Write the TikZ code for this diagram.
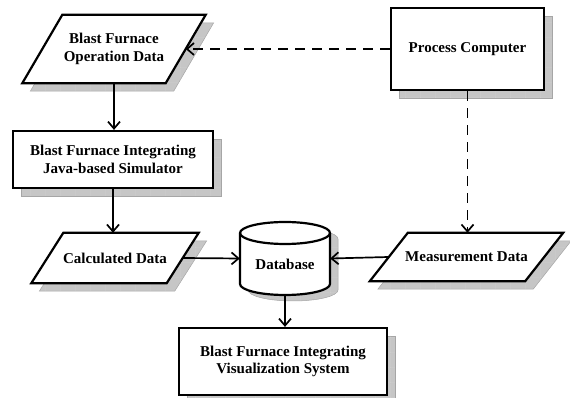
\documentclass[tikz,border=0pt]{standalone}
\usepackage{fontspec}
\setmainfont{Liberation Serif}
\usetikzlibrary{arrows.meta,patterns}

\pgfdeclarelayer{background}
\pgfsetlayers{background,main}

% fine grid used inside the drop shadows
\pgfdeclarepatternformonly{shadowgrid}{\pgfpointorigin}{\pgfpoint{15pt}{15pt}}{\pgfpoint{15pt}{15pt}}{%
  \pgfsetlinewidth{0.5pt}%
  \pgfpathmoveto{\pgfpointorigin}\pgfpathlineto{\pgfpoint{15pt}{0pt}}%
  \pgfpathmoveto{\pgfpointorigin}\pgfpathlineto{\pgfpoint{0pt}{15pt}}%
  \pgfusepath{stroke}}

\tikzset{
  boxfont/.style={font=\fontsize{15}{17.5}\selectfont\bfseries},
  shadowfill/.style={draw=gray!70, line width=0.5pt, fill=gray!45,
      postaction={pattern=shadowgrid, pattern color=gray!20}},
  gridshadow/.style={preaction={shadowfill, transform canvas={shift={(8pt,-8pt)}}}},
  outline/.style={draw, line width=2.2pt, fill=white},
  procbox/.style={rectangle, outline, gridshadow, align=center, inner sep=0pt, boxfont},
  databox/.style={rectangle, align=center, inner sep=0pt, boxfont},
  flow/.style={line width=1.7pt, -{Straight Barb[length=7pt,width=12pt,line width=1.7pt]}},
  feed/.style={flow, dash pattern=on 10pt off 7pt},
}

% parallelogram frame around a data node; #2 is half of the horizontal slant
\newcommand\paraframe[2]{%
  \begin{pgfonlayer}{background}
    \path[outline, gridshadow]
      ([xshift=#2]#1.north west) -- ([xshift=#2]#1.north east)
      -- ([xshift=-#2]#1.south east) -- ([xshift=-#2]#1.south west) -- cycle;
  \end{pgfonlayer}}

\begin{document}
\begin{tikzpicture}[x=1pt, y=1pt]
\useasboundingbox (0,0) rectangle (570,398);

\node[databox, minimum width=143pt, minimum height=68pt] (opdata) at (114,349)
      {Blast Furnace\\Operation Data};
\paraframe{opdata}{20pt}
\node[procbox, minimum width=200pt, minimum height=57pt] (sim) at (113,238.5)
      {Blast Furnace Integrating\\Java-based Simulator};
\node[procbox, minimum width=153pt, minimum height=82pt] (proc) at (467.5,349)
      {Process Computer};
\node[databox, minimum width=135pt, minimum height=50pt] (calc) at (115,140)
      {Calculated Data};
\paraframe{calc}{16pt}
\node[databox, minimum width=155pt, minimum height=48pt] (meas) at (466.5,141)
      {Measurement Data};
\paraframe{meas}{19pt}
\node[procbox, minimum width=208pt, minimum height=67pt] (vis) at (283,36.5)
      {Blast Furnace Integrating\\Visualization System};

% database cylinder
\node[minimum width=90pt, minimum height=73pt, inner sep=0pt] (db) at (285,139.5) {};
\begin{scope}[transform canvas={shift={(8pt,-6pt)}}]
  \path[shadowfill]
    (240,165) -- (240,114) arc[start angle=180, end angle=360, x radius=45, y radius=11]
    -- (330,165) arc[start angle=0, end angle=180, x radius=45, y radius=11] -- cycle;
\end{scope}
\path[outline]
  (240,165) -- (240,114) arc[start angle=180, end angle=360, x radius=45, y radius=11]
  -- (330,165) arc[start angle=0, end angle=180, x radius=45, y radius=11] -- cycle;
\draw[line width=2.2pt] (240,165) arc[start angle=180, end angle=360, x radius=45, y radius=11];
\node[boxfont] (dblabel) at (285,134) {Database};

% connectors
\draw[flow] (opdata.south) -- (opdata.south |- sim.north);
\draw[flow] (sim.south) -- (sim.south |- calc.north);
\draw[feed] (proc.west) -- (opdata.east);
\draw[feed] (proc.south) -- (proc.south |- meas.north);
\draw[flow] (calc.east) -- (db.west);
\draw[flow] (meas.west) -- (db.east);
\draw[flow] (db.south) -- (db.south |- vis.north);
\end{tikzpicture}
\end{document}
